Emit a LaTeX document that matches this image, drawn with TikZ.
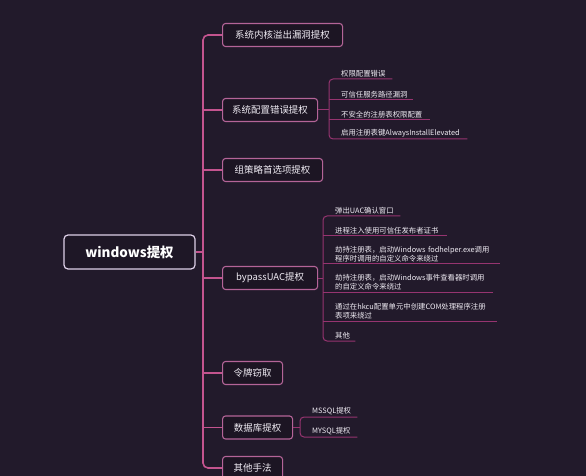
\documentclass[tikz,border=0pt]{standalone}
\usepackage{fontspec}
\setmainfont{Noto Sans CJK SC}
\begin{document}
\begin{tikzpicture}[x=1bp,y=-1bp,
  bgcol/.style={fill={rgb,255:red,34;green,26;blue,43}},
  trunk/.style={draw={rgb,255:red,196;green,84;blue,143},line width=1.6bp,rounded corners=5bp},
  twig/.style={draw={rgb,255:red,150;green,52;blue,112},line width=1bp,rounded corners=4bp},
  rootbox/.style={draw={rgb,255:red,222;green,208;blue,232},line width=1.2bp,rounded corners=4bp,
    fill={rgb,255:red,30;green,23;blue,38},text=white,minimum width=131bp,minimum height=34bp,
    font=\fontsize{13.5}{15}\selectfont\bfseries},
  branch/.style={draw={rgb,255:red,180;green,100;blue,152},line width=1.1bp,rounded corners=3bp,
    fill={rgb,255:red,28;green,21;blue,35},text={rgb,255:red,240;green,236;blue,244},
    minimum height=23bp,anchor=west,inner xsep=0bp,font=\fontsize{9.5}{11}\selectfont},
  leaf/.style={anchor=south west,inner xsep=0bp,inner ysep=2bp,align=left,
    text={rgb,255:red,240;green,236;blue,244},font=\fontsize{7.4}{8.6}\selectfont}
]
\path[bgcol] (0,0) rectangle (586,476);
\useasboundingbox (0,0) rectangle (586,476);

\coordinate (tk) at (203,0);
\coordinate (br2) at (329,0);
\coordinate (br4) at (323,0);
\coordinate (br6) at (300,0);

\node[rootbox] (root) at (129.5,252) {windows提权};

\node[branch,minimum width=120bp] (b1) at (222,35) {系统内核溢出漏洞提权};
\node[branch,minimum width=95bp] (b2) at (222,110) {系统配置错误提权};
\node[branch,minimum width=100bp] (b3) at (222,170) {组策略首选项提权};
\node[branch,minimum width=95bp] (b4) at (222,278) {bypassUAC提权};
\node[branch,minimum width=60bp] (b5) at (222,373) {令牌窃取};
\node[branch,minimum width=70bp] (b6) at (222,427.5) {数据库提权};
\node[branch,minimum width=60bp] (b7) at (222,468) {其他手法};

% trunk
\draw[trunk] (b1.west) -- (b1.west -| tk) -- (b7.west -| tk) -- (b7.west);
\draw[trunk] (root.east) -- (root.east -| tk);
\foreach \b in {b2,b3,b4,b5,b6}{\draw[trunk] (\b.west -| tk) -- (\b.west);}

% children of b2
\node[leaf,text width=51bp] (c21) at (341,79) {权限配置错误};
\node[leaf,text width=72bp] (c22) at (341,100) {可信任服务路径漏洞};
\node[leaf,text width=89bp] (c23) at (341,120) {不安全的注册表权限配置};
\node[leaf,text width=126bp] (c24) at (341,139) {启用注册表键AlwaysInstallElevated};
\draw[twig] (c21.south east) -- (c21.south west -| br2) -- (c24.south west -| br2) -- (c24.south east);
\draw[twig] (c22.south west -| br2) -- (c22.south east);
\draw[twig] (c23.south west -| br2) -- (c23.south east);
\draw[twig] (b2.east) -- (b2.east -| br2);

% children of b4
\node[leaf,text width=65bp] (c41) at (335,216) {弹出UAC确认窗口};
\node[leaf,text width=112bp] (c42) at (335,236) {进程注入使用可信任发布者证书};
\node[leaf,text width=165bp] (c43) at (335,264) {劫持注册表，启动Windows fodhelper.exe调用\\程序时调用的自定义命令来绕过};
\node[leaf,text width=158bp] (c44) at (335,292) {劫持注册表，启动Windows事件查看器时调用\\的自定义命令来绕过};
\node[leaf,text width=162bp] (c45) at (335,321) {通过在hkcu配置单元中创建COM处理程序注册\\表项来绕过};
\node[leaf,text width=20bp] (c46) at (335,341) {其他};
\draw[twig] (c41.south east) -- (c41.south west -| br4) -- (c46.south west -| br4) -- (c46.south east);
\foreach \c in {c42,c43,c44,c45}{\draw[twig] (\c.south west -| br4) -- (\c.south east);}
\draw[twig] (b4.east) -- (b4.east -| br4);

% children of b6
\node[leaf,text width=45bp] (c61) at (312,417) {MSSQL提权};
\node[leaf,text width=45bp] (c62) at (312,437) {MYSQL提权};
\draw[twig] (c61.south east) -- (c61.south west -| br6) -- (c62.south west -| br6) -- (c62.south east);
\draw[twig] (b6.east) -- (b6.east -| br6);
\end{tikzpicture}
\end{document}
